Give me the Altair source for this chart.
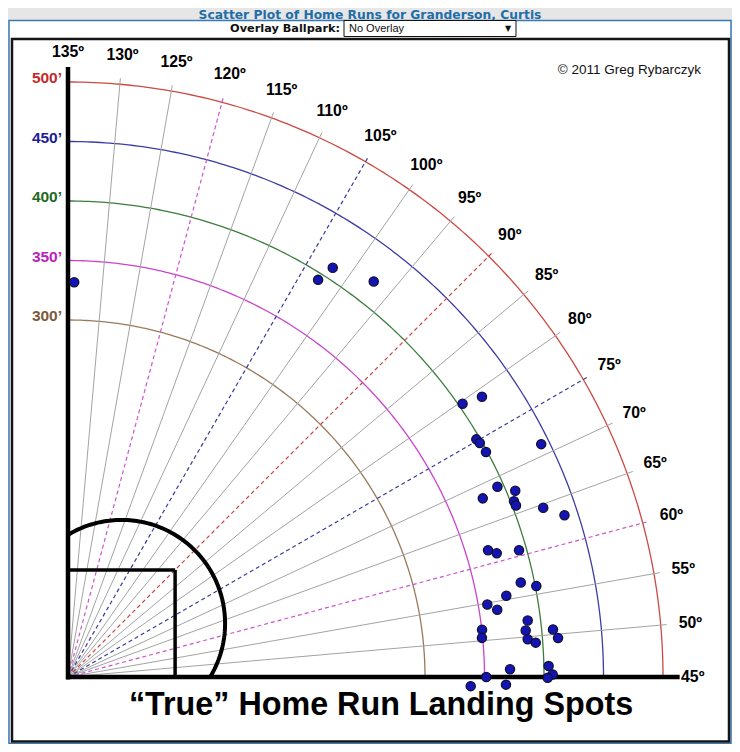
import altair as alt
import pandas as pd
import numpy as np

# ---------------- data ----------------
hr_distance = [331.7, 394.4, 409.6, 420.1, 403.3, 420.1, 397.0, 398.0, 398.9, 443.2,
               394.7, 407.1, 379.5, 402.8, 403.1, 423.9, 438.8, 368.7, 375.0, 393.7,
               388.7, 400.9, 374.6, 357.6, 365.1, 389.2, 350.2, 349.4, 386.6, 387.6,
               394.1, 409.5, 413.1, 371.5, 404.0, 407.3, 403.1, 351.5, 338.5, 368.1]
hr_angle = [134.1, 102.8, 102.1, 97.3, 79.7, 79.1, 75.2, 74.6, 73.3, 71.2,
            68.9, 67.6, 68.3, 66.5, 65.95, 64.6, 63.05, 61.8, 61.1, 60.7,
            56.8, 56.0, 55.5, 54.8, 53.9, 52.0, 51.5, 50.4, 50.8, 49.7,
            49.2, 50.6, 49.55, 46.0, 46.3, 45.3, 44.9, 45.0, 43.7, 44.0]

ring_distances = [300, 350, 400, 450, 500]
ring_labels = ["300’", "350’", "400’", "450’", "500’"]
ring_colors = ["#9a7a5c", "#cc44cc", "#3d7d3d", "#3c3ca6", "#cc4a44"]
ring_label_colors = ["#7a5a3a", "#bb22bb", "#1f6a1f", "#1c1c96", "#c42a2a"]

angle_ticks = list(range(45, 140, 5))
dashed_angles = [60, 75, 90, 105, 120]
dashed_colors = ["#cc55cc", "#3a3a9a", "#cc4444", "#3a3a9a", "#cc55cc"]

title_text = "Scatter Plot of Home Runs for Granderson, Curtis"
overlay_label = "Overlay Ballpark:"
overlay_value = "No Overlay"
copyright_text = "© 2011 Greg Rybarczyk"
big_title = "“True” Home Run Landing Spots"

# ---------------- geometry / scales ----------------
K = 1.19            # px per foot
W, H = 724, 736
OX, OY = 60, 669    # home plate in chart pixels
xs = alt.Scale(domain=[-OX / K, (W - OX) / K], nice=False, zero=False)
ys = alt.Scale(domain=[(OY - H) / K, OY / K], nice=False, zero=False)
LINE_R = 505
LABEL_R = 525
FONT = "Liberation Sans"


def pol(d, a):
    t = np.radians(np.asarray(a, dtype=float) - 45.0)
    return np.asarray(d) * np.cos(t), np.asarray(d) * np.sin(t)


def X(f="x"):
    return alt.X(f + ":Q", scale=xs, axis=None)


def Y(f="y"):
    return alt.Y(f + ":Q", scale=ys, axis=None)


one = pd.DataFrame({"k": [0]})

# chrome
outer = alt.Chart(one).mark_rect(fill="white", stroke="#3b78b5", strokeWidth=1.5).encode(
    x=alt.value(1), x2=alt.value(723), y=alt.value(12.5), y2=alt.value(735.5))
frame = alt.Chart(one).mark_rect(fill="white", stroke="#151515", strokeWidth=2.5).encode(
    x=alt.value(4), x2=alt.value(721), y=alt.value(31), y2=alt.value(733.5))
title = alt.Chart(one).mark_text(font="DejaVu Sans", fontSize=12.3, fontWeight="bold",
                                 color="#1f6ea8", align="center", baseline="middle").encode(
    x=alt.value(362), y=alt.value(6.5), text=alt.value(title_text))
ov_lab = alt.Chart(one).mark_text(font="DejaVu Sans", fontSize=11.3, fontWeight="bold",
                                  color="#111", align="right", baseline="middle").encode(
    x=alt.value(332), y=alt.value(20.5), text=alt.value(overlay_label))
ov_box = alt.Chart(one).mark_rect(fill="white", stroke="#111", strokeWidth=1).encode(
    x=alt.value(336), x2=alt.value(508), y=alt.value(12.5), y2=alt.value(28.5))
ov_txt = alt.Chart(one).mark_text(font=FONT, fontSize=11, color="#111", align="left",
                                  baseline="middle").encode(
    x=alt.value(341), y=alt.value(20.5), text=alt.value(overlay_value))
ov_arr = alt.Chart(one).mark_text(font="DejaVu Sans", fontSize=8, color="#111", align="center",
                                  baseline="middle").encode(
    x=alt.value(500), y=alt.value(20.5), text=alt.value("▼"))

# rings
rows = []
for d, lab, col in zip(ring_distances, ring_labels, ring_colors):
    for i, a in enumerate(np.arange(45, 135.001, 0.5)):
        x, y = pol(d, a)
        rows.append(dict(ring=lab, color=col, order=i, x=float(x), y=float(y)))
rings_df = pd.DataFrame(rows)
rings = alt.Chart(rings_df).mark_line(strokeWidth=1.3).encode(
    x=X(), y=Y(), color=alt.Color("color:N", scale=None), detail="ring:N", order="order:Q")

# radial lines
solid_angles = [a for a in angle_ticks if a not in dashed_angles and a not in (45, 135)]
sx, sy = pol(LINE_R, solid_angles)
solid_df = pd.DataFrame({"x": 0.0, "y": 0.0, "x2": sx, "y2": sy})
solid = alt.Chart(solid_df).mark_rule(color="#a3a3a3", strokeWidth=1).encode(
    x=X(), y=Y(), x2="x2:Q", y2="y2:Q")
dx_, dy_ = pol(LINE_R, dashed_angles)
dash_df = pd.DataFrame({"x": 0.0, "y": 0.0, "x2": dx_, "y2": dy_, "color": dashed_colors})
dashed = alt.Chart(dash_df).mark_rule(strokeWidth=1.2, strokeDash=[4, 3]).encode(
    x=X(), y=Y(), x2="x2:Q", y2="y2:Q", color=alt.Color("color:N", scale=None))

# axes (foul lines)
axes_df = pd.DataFrame({"x": [0.0, -1.7], "y": [-2.0, 0.0], "x2": [0.0, 514.0], "y2": [512.6, 0.0]})
axes = alt.Chart(axes_df).mark_rule(color="#000", strokeWidth=4.5).encode(
    x=X(), y=Y(), x2="x2:Q", y2="y2:Q")

# infield
sq_df = pd.DataFrame({"x": [0.0, 90.0], "y": [90.0, 90.0], "x2": [90.0, 90.0], "y2": [90.0, 0.0]})
square = alt.Chart(sq_df).mark_rule(color="#000", strokeWidth=3.5).encode(
    x=X(), y=Y(), x2="x2:Q", y2="y2:Q")
c, r = 45.0, 87.0
a0 = -np.degrees(np.arcsin(c / r))
ang = np.radians(np.linspace(a0, 90 - a0, 120))
arc_df = pd.DataFrame({"x": c + r * np.cos(ang), "y": c + r * np.sin(ang), "order": np.arange(120)})
infield_arc = alt.Chart(arc_df).mark_line(color="#000", strokeWidth=4).encode(
    x=X(), y=Y(), order="order:Q")

# angle labels
lx, ly = pol(LABEL_R, angle_ticks)
alab_df = pd.DataFrame({"x": lx, "y": ly, "label": [f"{a}º" for a in angle_ticks]})
alabels = alt.Chart(alab_df).mark_text(font=FONT, fontSize=15.8, fontWeight="bold", color="#000",
                                       align="center", baseline="middle").encode(
    x=X(), y=Y(), text="label:N")

# ring labels
rlab_df = pd.DataFrame({"x": -5.0, "y": [d + 3 for d in ring_distances], "label": ring_labels,
                        "color": ring_label_colors})
rlabels = alt.Chart(rlab_df).mark_text(font=FONT, fontSize=15.5, fontWeight="bold",
                                       align="right", baseline="middle").encode(
    x=X(), y=Y(), text="label:N", color=alt.Color("color:N", scale=None))

# home runs
hr_df = pd.DataFrame({"distance": hr_distance, "angle": hr_angle})
hrs = alt.Chart(hr_df).transform_calculate(
    x="datum.distance * cos((datum.angle - 45) * PI / 180)",
    y="datum.distance * sin((datum.angle - 45) * PI / 180)",
).mark_point(shape="circle", filled=True, size=85, fill="#1414b4", stroke="#101030",
             strokeWidth=1.3, opacity=1).encode(x=X(), y=Y())

copy_t = alt.Chart(one).mark_text(font=FONT, fontSize=13.5, color="#111", align="right",
                                  baseline="middle").encode(
    x=alt.value(693), y=alt.value(62), text=alt.value(copyright_text))
big_t = alt.Chart(one).mark_text(font=FONT, fontSize=32.3, fontWeight="bold", color="#000",
                                 align="center", baseline="middle").encode(
    x=alt.value(373), y=alt.value(697), text=alt.value(big_title))

chart = alt.layer(
    outer, frame, title, ov_lab, ov_box, ov_txt, ov_arr,
    rings, solid, dashed, axes, square, infield_arc, alabels, rlabels, hrs, copy_t, big_t
).properties(
    width=W, height=H, background="#e6e6e6", padding=0,
    autosize=alt.AutoSizeParams(type="none")
).configure_view(strokeWidth=0)

chart.save("out.html", embed_options={"renderer": "svg", "actions": False})
